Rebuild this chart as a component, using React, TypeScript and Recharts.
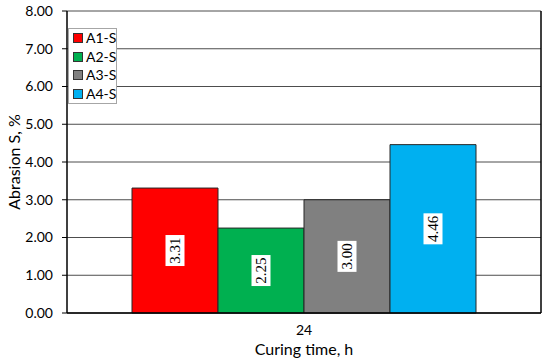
import React from "react";
import { BarChart, Bar, XAxis, YAxis, CartesianGrid, LabelList, Label } from "recharts";

const categories = ["24"];
const seriesNames = ["A1-S", "A2-S", "A3-S", "A4-S"];
const seriesValues = [[3.31], [2.25], [3.0], [4.46]];
const seriesColors = ["#FF0000", "#00B050", "#808080", "#00B0F0"];
const yTicks = [0, 1, 2, 3, 4, 5, 6, 7, 8];

const data = categories.map((c, i) => {
  const row: Record<string, any> = { cat: c };
  seriesNames.forEach((s, j) => (row[s] = seriesValues[j][i]));
  return row;
});

const FONT = "Lato, 'Open Sans', sans-serif";

const ValueLabel = (props: any) => {
  const { x, y, width, height, value } = props;
  const cx = x + width / 2;
  const cy = y + height / 2;
  const txt = Number(value).toFixed(2);
  const w = 19;
  const h = 31;
  return (
    <g>
      <rect x={cx - w / 2} y={cy - h / 2} width={w} height={h} fill="#fff" />
      <text
        x={cx}
        y={cy}
        transform={`rotate(-90 ${cx} ${cy})`}
        textAnchor="middle"
        dominantBaseline="central"
        fontFamily="'Liberation Serif', 'Times New Roman', serif"
        fontSize={15}
        fill="#000"
      >
        {txt}
      </text>
    </g>
  );
};

const LegendBox = () => (
  <div
    style={{
      position: "absolute",
      left: 68,
      top: 28,
      background: "#fff",
      border: "1px solid #a6a6a6",
      width: 43,
      paddingLeft: 4,
      fontFamily: FONT,
      fontSize: 14,
      lineHeight: "18px",
      boxSizing: "content-box",
      height: 74,
      whiteSpace: "nowrap",
    }}
  >
    {seriesNames.map((s, i) => (
      <div key={s} style={{ display: "flex", alignItems: "center", height: 18.5 }}>
        <span
          style={{
            display: "inline-block",
            flex: "0 0 auto",
            width: 8,
            height: 8,
            background: seriesColors[i],
            border: "1px solid #333",
            marginRight: 3,
          }}
        />
        <span style={{ color: "#000" }}>{s}</span>
      </div>
    ))}
  </div>
);

export default function App() {
  return (
    <div style={{ position: "absolute", left: 0, top: 0, width: 550, height: 364, background: "#fff" }}>
      <BarChart
        width={550}
        height={364}
        data={data}
        margin={{ top: 11, right: 8, left: 0, bottom: 0 }}
        barCategoryGap={65}
        barGap={0}
      >
        <CartesianGrid vertical={false} stroke="#4d4d4d" strokeWidth={1} />
        <XAxis
          dataKey="cat"
          height={51}
          tickLine={false}
          axisLine={{ stroke: "#000", strokeWidth: 1.5 }}
          tick={{ fontFamily: FONT, fontSize: 14, fill: "#000" }}
          tickMargin={6}
        >
          <Label
            value="Curing time, h"
            position="insideBottom"
            offset={9}
            style={{ fontFamily: FONT, fontSize: 16, fill: "#000" }}
          />
        </XAxis>
        <YAxis
          width={67}
          domain={[0, 8]}
          ticks={yTicks}
          interval={0}
          tickFormatter={(v: number) => v.toFixed(2)}
          tickSize={5}
          tickMargin={9}
          tickLine={{ stroke: "#000" }}
          axisLine={{ stroke: "#000", strokeWidth: 1.5 }}
          tick={{ fontFamily: FONT, fontSize: 14, fill: "#000" }}
        >
          <Label
            value="Abrasion S, %"
            angle={-90}
            position="insideLeft"
            offset={14}
            style={{ fontFamily: FONT, fontSize: 16, fill: "#000", textAnchor: "middle" }}
          />
        </YAxis>
        <YAxis
          yAxisId="r"
          orientation="right"
          width={1}
          domain={[0, 8]}
          tick={false}
          tickLine={false}
          axisLine={{ stroke: "#000", strokeWidth: 1.5 }}
        />
        {seriesNames.map((s, i) => (
          <Bar
            key={s}
            dataKey={s}
            fill={seriesColors[i]}
            stroke="#262626"
            strokeWidth={1}
            isAnimationActive={false}
          >
            <LabelList dataKey={s} content={<ValueLabel />} />
          </Bar>
        ))}
      </BarChart>
      <LegendBox />
    </div>
  );
}
